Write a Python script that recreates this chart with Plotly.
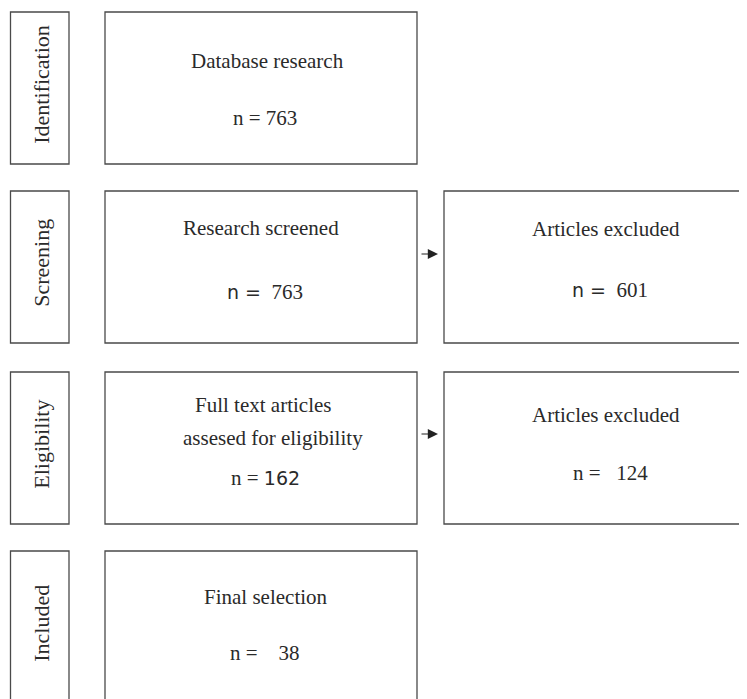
import plotly.graph_objects as go

# ---- data ----
stages = ["Identification", "Screening", "Eligibility", "Included"]
main_titles = ["Database research", "Research screened",
               "Full text articles<br>assesed for eligibility", "Final selection"]
main_counts = [763, 763, 162, 38]
excluded_titles = [None, "Articles excluded", "Articles excluded", None]
excluded_counts = [None, 601, 124, None]

# ---- layout / style ----
W, H = 747, 699
OFF = 8  # page body margin; axis ranges chosen so data units equal page pixels
row_top = [12, 191, 372, 551]
row_h = 152
stage_x = (10.5, 69)
main_x = (105, 417)
excl_x = (444, 770)
SERIF = "Liberation Serif, Times New Roman, serif"
SANS = "DejaVu Sans, sans-serif"
LINE = "#4a4a4a"
TXT = "#2a2a2a"

# which part of "n = X" is drawn in a sans font (quirk of the original)
main_n_style = ["serif", "sans_eq", "sans_num", "serif"]
excl_n_style = [None, "sans_eq", "serif", None]
main_gap = ["\u00a0", "\u00a0\u00a0", "\u00a0", "\u00a0\u00a0\u00a0\u00a0"]
excl_gap = [None, "\u00a0\u00a0", "\u00a0\u00a0\u00a0", None]

main_title_dy = [[49], [37], [33, 66], [46]]
main_title_x = [[267], [261], [263, 273], [266]]
main_n_dy = [106, 101, 106, 102]
excl_title_dy = [None, 38, 43, None]
excl_n_dy = [None, 99, 101, None]


def n_text(val, style, gap):
    if style == "sans_eq":
        return f'<span style="font-family:{SANS};font-size:19px">n =</span>{gap}{val}'
    if style == "sans_num":
        return f'n ={gap}<span style="font-family:{SANS};font-size:19px">{val}</span>'
    return f"n ={gap}{val}"


fig = go.Figure()
shapes = []
ann = []

for i, st in enumerate(stages):
    y0 = row_top[i]
    y1 = y0 + row_h
    shapes.append(dict(type="rect", x0=stage_x[0], x1=stage_x[1], y0=y0, y1=y1,
                       line=dict(color=LINE, width=1.3), xref="x", yref="y"))
    shapes.append(dict(type="rect", x0=main_x[0], x1=main_x[1], y0=y0, y1=y1,
                       line=dict(color=LINE, width=1.3), xref="x", yref="y"))
    ann.append(dict(x=(stage_x[0] + stage_x[1]) / 2 + 1, y=(y0 + y1) / 2 - 4, text=st,
                    textangle=-90, showarrow=False, xref="x", yref="y",
                    font=dict(family=SERIF, size=22, color=TXT)))
    for line_txt, dy, lx in zip(main_titles[i].split("<br>"), main_title_dy[i], main_title_x[i]):
        ann.append(dict(x=lx, y=y0 + dy, text=line_txt, showarrow=False,
                        xref="x", yref="y",
                        font=dict(family=SERIF, size=21, color=TXT)))
    ann.append(dict(x=265, y=y0 + main_n_dy[i],
                    text=n_text(main_counts[i], main_n_style[i], main_gap[i]),
                    showarrow=False, xref="x", yref="y",
                    font=dict(family=SERIF, size=21, color=TXT)))
    if excluded_titles[i] is not None:
        shapes.append(dict(type="rect", x0=excl_x[0], x1=excl_x[1], y0=y0, y1=y1,
                           line=dict(color=LINE, width=1.3), xref="x", yref="y"))
        ann.append(dict(x=606, y=y0 + excl_title_dy[i], text=excluded_titles[i],
                        showarrow=False, xref="x", yref="y",
                        font=dict(family=SERIF, size=21, color=TXT)))
        ann.append(dict(x=610, y=y0 + excl_n_dy[i],
                        text=n_text(excluded_counts[i], excl_n_style[i], excl_gap[i]),
                        showarrow=False, xref="x", yref="y",
                        font=dict(family=SERIF, size=21, color=TXT)))
        ay = (y0 + y1) / 2 - 13 if i == 1 else (y0 + y1) / 2 - 14
        ann.append(dict(x=438, y=ay, ax=420, ay=ay, xref="x", yref="y",
                        axref="x", ayref="y", text="", showarrow=True,
                        arrowhead=2, arrowsize=1.7, arrowwidth=1.2, arrowcolor="#222"))

fig.update_layout(
    width=W, height=H, margin=dict(l=0, r=0, t=0, b=0),
    paper_bgcolor="white", plot_bgcolor="white",
    xaxis=dict(range=[OFF, W + OFF], visible=False, fixedrange=True),
    yaxis=dict(range=[H + OFF, OFF], visible=False, fixedrange=True),
    shapes=shapes, annotations=ann, showlegend=False,
)
fig.write_html("out.html")
